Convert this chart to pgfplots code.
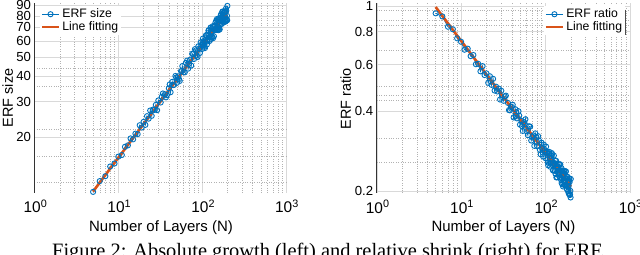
\documentclass[border=0pt]{standalone}
\usepackage{pgfplots}
\pgfplotsset{compat=1.18}
\usepackage{pgfplotstable}
\usepackage{fontspec}
\setmainfont{Liberation Sans}
\newfontfamily\capfont{Liberation Serif}
\definecolor{mblue}{rgb}{0,0.447,0.741}
\definecolor{morange}{rgb}{0.85,0.325,0.098}

\pgfplotstableread{
N erf ratio
5 10.7 0.937
6 12.1 0.912
7 12.8 0.834
8 14.3 0.816
9 14.8 0.754
10 16.0 0.732
11 16.3 0.683
12 17.9 0.689
13 18.2 0.646
14 19.7 0.652
15 19.5 0.602
16 20.8 0.604
17 20.7 0.566
18 22.9 0.592
19 22.3 0.548
20 23.8 0.556
21 23.0 0.512
22 25.4 0.542
23 24.7 0.503
24 27.1 0.530
25 25.5 0.479
26 27.4 0.495
27 27.3 0.475
28 28.9 0.487
29 27.2 0.443
30 30.4 0.478
32 29.7 0.438
33 31.7 0.455
34 32.9 0.458
36 32.6 0.430
37 31.5 0.404
38 32.3 0.403
40 34.9 0.415
41 36.5 0.423
42 33.4 0.379
44 37.6 0.407
45 36.2 0.384
46 36.3 0.376
48 40.2 0.400
49 39.5 0.385
50 37.2 0.356
52 40.0 0.368
53 38.8 0.351
54 38.0 0.337
56 42.5 0.364
57 42.5 0.358
58 45.0 0.373
60 42.0 0.336
62 41.9 0.325
64 46.7 0.351
66 47.9 0.350
68 43.7 0.310
70 46.3 0.319
72 48.4 0.324
74 45.3 0.296
76 51.8 0.330
78 51.6 0.320
80 48.8 0.295
82 54.6 0.322
84 53.8 0.310
86 50.8 0.286
88 49.9 0.275
90 56.4 0.304
92 54.9 0.290
94 52.3 0.270
96 59.0 0.299
98 57.4 0.285
100 54.7 0.266
102 61.6 0.294
103 59.0 0.279
104 59.9 0.281
106 57.1 0.262
107 56.2 0.256
108 55.3 0.250
110 62.4 0.277
111 64.0 0.281
112 63.7 0.277
114 57.6 0.247
115 59.7 0.253
116 60.6 0.255
118 65.6 0.271
119 67.7 0.278
120 67.4 0.275
122 62.3 0.250
123 60.0 0.239
124 61.0 0.240
126 69.9 0.272
127 65.7 0.253
128 66.6 0.255
130 63.2 0.238
131 69.5 0.260
132 62.5 0.232
134 71.0 0.260
135 61.9 0.225
136 70.3 0.253
138 63.3 0.225
139 70.4 0.248
140 68.0 0.238
142 71.3 0.246
143 68.1 0.234
144 73.9 0.252
146 68.9 0.232
147 75.5 0.252
148 68.0 0.226
150 77.0 0.252
151 68.7 0.224
152 74.0 0.239
154 68.8 0.220
155 77.0 0.244
156 67.8 0.214
158 76.3 0.238
159 68.5 0.212
160 77.6 0.239
162 68.5 0.208
163 76.2 0.230
164 72.7 0.218
166 80.0 0.237
167 78.7 0.232
168 81.3 0.238
170 74.9 0.217
171 72.9 0.210
172 73.1 0.210
174 83.6 0.237
175 83.9 0.237
176 79.5 0.223
178 75.3 0.209
179 76.3 0.210
180 74.2 0.203
182 83.4 0.226
183 83.6 0.226
184 83.1 0.223
186 74.7 0.199
187 75.8 0.200
188 79.2 0.208
190 74.8 0.195
191 84.0 0.218
192 86.7 0.223
194 84.7 0.216
195 75.9 0.193
196 76.9 0.194
198 79.9 0.200
199 76.0 0.189
200 89.5 0.222
}\erfdata

\tikzset{
  datastyle/.style={color=mblue, line width=0.9bp, mark=o, mark size=2.6bp, mark options={line width=0.9bp}},
  fitstyle/.style={color=morange, line width=2.6bp},
}

\begin{document}
\begin{tikzpicture}
\useasboundingbox (0,0) rectangle (640bp,255bp);
\begin{axis}[
  scale only axis, xmode=log, ymode=log, xmin=1, xmax=1000,
  clip=false,
  axis y line*=left, axis x line*=bottom,
  x axis line style={draw=none},
  y axis line style={draw=black!80, line width=0.7bp},
  major tick length=0pt, minor tick length=0pt,
  xtick={1,10,100,1000},
  xticklabels={10\textsuperscript{0},10\textsuperscript{1},10\textsuperscript{2},10\textsuperscript{3}},
  minor xtick={2,3,4,5,6,7,8,9,20,30,40,50,60,70,80,90,200,300,400,500,600,700,800,900},
  grid=both,
  major grid style={black!15, line width=0.4bp},
  minor grid style={black!30, dotted, line width=0.4bp},
  xticklabel style={font=\fontsize{15.5}{16}\selectfont, anchor=base, yshift=-20.3bp, xshift=1bp},
  yticklabel style={font=\fontsize{13.2}{14}\selectfont, inner ysep=0pt},
  legend style={draw=none, fill=white, font=\fontsize{12.3}{13}\selectfont, inner sep=1bp, row sep=-1.5bp},
  legend cell align=left,
  at={(34.5bp,62.3bp)}, anchor=south west,
  width=251.5bp, height=189.7bp,
  ymin=10.6, ymax=92.5,
  ytick={20,30,40,50,60,70,80,90},
  yticklabels={20,30,40,50,60,70,80,90},
  minor ytick={11.9,16,21.9,35.8,43.7},
  xlabel={Number of Layers (N)},
  ylabel={ERF size},
  xlabel style={at={(axis description cs:0.503,-0.2056)}, font=\fontsize{15}{16}\selectfont, anchor=base},
  ylabel style={at={(axis description cs:-0.107,0.5)}, font=\fontsize{14.5}{15}\selectfont, anchor=center},
  legend style={at={(axis description cs:0.02,0.985)}, anchor=north west},
]
\addplot[datastyle] table[x=N,y=erf]{\erfdata};
\addplot[fitstyle] coordinates {(5,10.75) (200,83.4)};
\legend{ERF size, Line fitting}
\end{axis}

\begin{axis}[
  scale only axis, xmode=log, ymode=log, xmin=1, xmax=1000,
  clip=false,
  axis y line*=left, axis x line*=bottom,
  x axis line style={draw=none},
  y axis line style={draw=black!80, line width=0.7bp},
  major tick length=0pt, minor tick length=0pt,
  xtick={1,10,100,1000},
  xticklabels={10\textsuperscript{0},10\textsuperscript{1},10\textsuperscript{2},10\textsuperscript{3}},
  minor xtick={2,3,4,5,6,7,8,9,20,30,40,50,60,70,80,90,200,300,400,500,600,700,800,900},
  grid=both,
  major grid style={black!15, line width=0.4bp},
  minor grid style={black!30, dotted, line width=0.4bp},
  xticklabel style={font=\fontsize{15.5}{16}\selectfont, anchor=base, yshift=-20.3bp, xshift=1bp},
  yticklabel style={font=\fontsize{13.2}{14}\selectfont, inner ysep=0pt},
  legend style={draw=none, fill=white, font=\fontsize{12.3}{13}\selectfont, inner sep=1bp, row sep=-1.5bp},
  legend cell align=left,
  at={(376.7bp,62.3bp)}, anchor=south west,
  width=253bp, height=189.7bp,
  ymin=0.197, ymax=1.025,
  ytick={0.2,0.4,0.6,0.8,1},
  yticklabels={0.2,0.4,0.6,0.8,1},
  minor ytick={0.256,0.316,0.441,0.461,0.496,0.683,0.847,0.879,0.966},
  xlabel={Number of Layers (N)},
  ylabel={ERF ratio},
  xlabel style={at={(axis description cs:0.501,-0.2056)}, font=\fontsize{15}{16}\selectfont, anchor=base},
  ylabel style={at={(axis description cs:-0.1225,0.494)}, font=\fontsize{14.5}{15}\selectfont, anchor=center},
  legend style={at={(axis description cs:0.9826,0.985)}, anchor=north east},
]
\addplot[datastyle] table[x=N,y=ratio]{\erfdata};
\addplot[fitstyle] coordinates {(5,0.99) (200,0.208)};
\legend{ERF ratio, Line fitting}
\draw[black!70, line width=0.5bp] (axis description cs:0.9826,0.965) -- (axis description cs:0.9826,0.83);
\end{axis}

\node[anchor=base west, font=\capfont\fontsize{20.5}{22}\selectfont, inner sep=0pt] at (52bp,-2.9bp) {Figure 2: Absolute growth (left) and relative shrink (right) for ERF.};
\end{tikzpicture}
\end{document}
